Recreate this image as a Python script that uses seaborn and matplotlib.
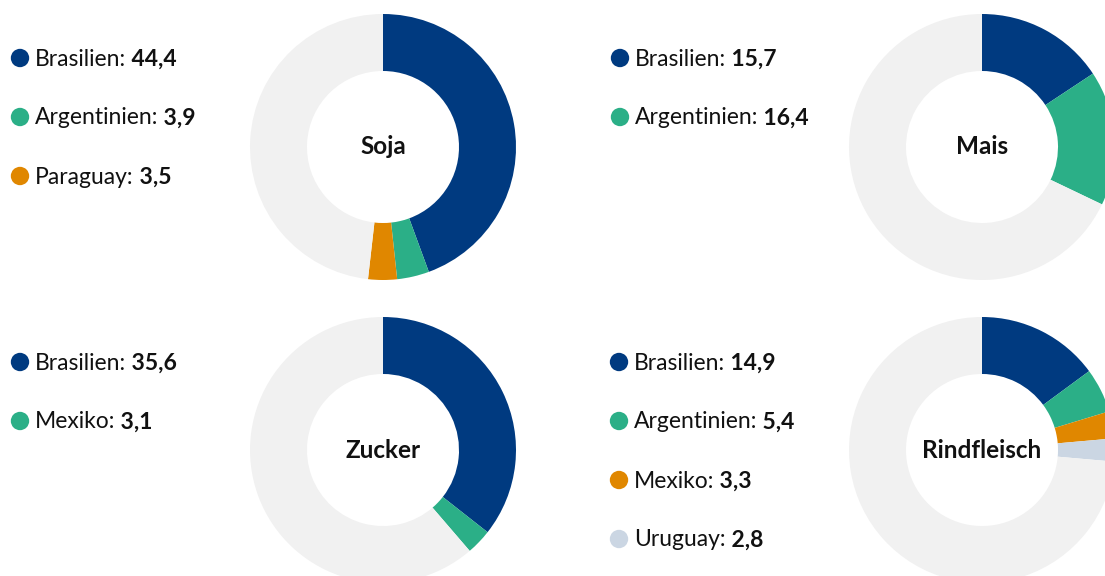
import matplotlib
matplotlib.use("Agg")
import matplotlib.pyplot as plt
import seaborn as sns
import pandas as pd

# ==============================
# DATA
# ==============================
titles = ["Soja", "Mais", "Zucker", "Rindfleisch"]

soja_countries = ["Brasilien", "Argentinien", "Paraguay"]
soja_values = [44.4, 3.9, 3.5]

mais_countries = ["Brasilien", "Argentinien"]
mais_values = [15.7, 16.4]

zucker_countries = ["Brasilien", "Mexiko"]
zucker_values = [35.6, 3.1]

rind_countries = ["Brasilien", "Argentinien", "Mexiko", "Uruguay"]
rind_values = [14.9, 5.4, 3.3, 2.8]

# colours go by rank within each donut
rank_colors = ["#003a80", "#2baf87", "#e08700", "#cbd6e3"]
rest_color = "#f1f1f1"

# ==============================
# STYLE
# ==============================
sns.set_theme(style="white")
plt.rcParams["font.family"] = ["Lato", "DejaVu Sans"]

W, H = 1105, 576
fig = plt.figure(figsize=(W / 100, H / 100), dpi=100)
ax = fig.add_axes([0, 0, 1, 1])

# layout (pixels, y measured from top)
panels = [
    (titles[0], soja_countries, soja_values, (383, 147), (20, 58)),
    (titles[1], mais_countries, mais_values, (982, 147), (620, 58)),
    (titles[2], zucker_countries, zucker_values, (383, 450), (20, 362)),
    (titles[3], rind_countries, rind_values, (982, 450), (619, 362)),
]
R_OUT, R_IN = 133, 76
ROW = 59
FS = 16.5

for title, countries, values, (cx, cy), (lx, ly) in panels:
    rest = 100 - sum(values)
    cols = rank_colors[:len(values)]
    ax.pie(
        values + [rest],
        colors=cols + [rest_color],
        center=(cx, H - cy),
        radius=R_OUT,
        startangle=90,
        counterclock=False,
        wedgeprops=dict(width=R_OUT - R_IN, linewidth=0),
    )
    ax.text(cx, H - cy, title, ha="center", va="center",
            fontsize=17.5, fontweight="bold", color="#111111")

    # legend
    leg = pd.DataFrame({
        "x": [lx] * len(countries),
        "y": [H - (ly + i * ROW) for i in range(len(countries))],
        "rank": list(range(len(countries))),
    })
    sns.scatterplot(data=leg, x="x", y="y", hue="rank",
                    palette=cols, s=175, linewidth=0,
                    legend=False, ax=ax, zorder=3)
    for i, (c, v) in enumerate(zip(countries, values)):
        y = H - (ly + i * ROW) - 1
        t = ax.text(lx + 15, y, f"{c}:", ha="left", va="center",
                    fontsize=FS, color="#111111")
        ax.annotate(" " + f"{v:.1f}".replace(".", ","), xy=(1, 0),
                    xycoords=t, ha="left", va="bottom", fontsize=FS,
                    fontweight="bold", color="#111111")

ax.set_xlim(0, W)
ax.set_ylim(0, H)
ax.set_aspect("equal")
ax.set_axis_off()

fig.savefig("out.png", dpi=100)
